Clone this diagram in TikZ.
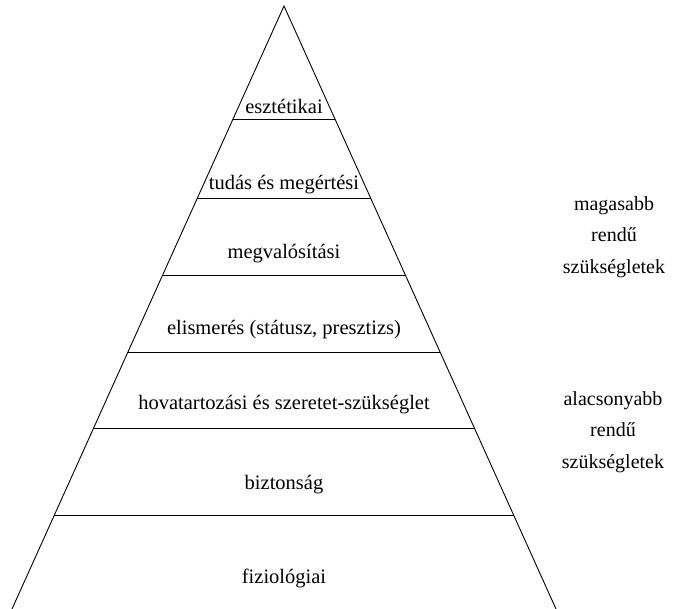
\documentclass[tikz,border=0pt]{standalone}
\usepackage{fontspec}
\setmainfont{Liberation Serif}
\usepackage{tikz}
\usetikzlibrary{calc}
\tikzstyle{level} = [inner sep=0pt, font=\fontsize{20.5}{24}\selectfont, text centered]
\tikzstyle{side} = [inner sep=0pt, align=center, font=\fontsize{20}{31.5}\selectfont]
\tikzstyle{edge} = [line width=0.9pt]

\begin{document}
\begin{tikzpicture}[x=1pt, y=-1pt]
\useasboundingbox (0,0) rectangle (677,609);
% Pyramid
\coordinate (apex) at (284,6);
\coordinate (bl) at (12,609);
\coordinate (br) at (556,609);
\draw [edge] (bl) -- (apex) -- (br);
\foreach \t in {0.1874,0.3184,0.4461,0.5738,0.6998,0.8441}
  \draw [edge] ($(apex)!\t!(bl)$) -- ($(apex)!\t!(br)$);

% Nodes
\node (aes) [level] at (284,106) {esztétikai};
\node (know) [level] at (284,185) {tudás és megértési};
\node (self) [level] at (284,254) {megvalósítási};
\node (est) [level] at (284,330) {elismerés (státusz, presztizs)};
\node (love) [level] at (284,405) {hovatartozási és szeretet-szükséglet};
\node (safe) [level] at (284,485) {biztonság};
\node (phys) [level] at (284,578) {fiziológiai};

\node (high) [side] at (614,237) {magasabb\\rendű\\szükségletek};
\node (low) [side] at (613,432) {alacsonyabb\\rendű\\szükségletek};
\end{tikzpicture}
\end{document}
